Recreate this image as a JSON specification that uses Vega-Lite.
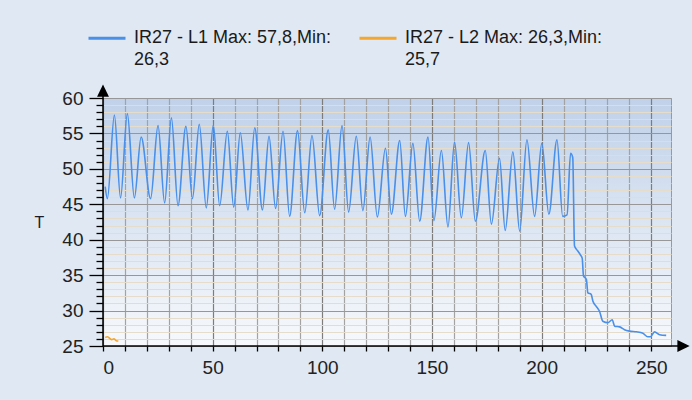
{
  "$schema": "https://vega.github.io/schema/vega-lite/v6.json",
  "width": 568,
  "height": 248,
  "autosize": {"type": "none"},
  "padding": {"left": 103, "top": 98, "right": 21, "bottom": 54},
  "background": "#dfe8f3",
  "view": {
    "fill": {"gradient": "linear", "x1": 0, "y1": 0, "x2": 0, "y2": 1, "stops": [{"offset": 0, "color": "#c0d1e9"}, {"offset": 1, "color": "#f7f9fc"}]},
    "stroke": "#9a9a9a",
    "strokeWidth": 1
  },
  "config": {
    "font": "Liberation Sans",
    "axis": {"labelFont": "Liberation Sans", "titleFont": "Liberation Sans"},
    "legend": {"labelFont": "Liberation Sans"},
    "style": {"guide-label": {"lineHeight": 21.5}}
  },
  "datasets": {
    "temps": [
      {"s": "IR27 - L1 Max: 57,8,Min:\n26,3", "x": 1, "y": 47.5},
      {"s": "IR27 - L1 Max: 57,8,Min:\n26,3", "x": 2, "y": 45.8},
      {"s": "IR27 - L1 Max: 57,8,Min:\n26,3", "x": 5.2, "y": 57.6},
      {"s": "IR27 - L1 Max: 57,8,Min:\n26,3", "x": 8.0, "y": 45.9},
      {"s": "IR27 - L1 Max: 57,8,Min:\n26,3", "x": 11.1, "y": 57.8},
      {"s": "IR27 - L1 Max: 57,8,Min:\n26,3", "x": 14.3, "y": 45.9},
      {"s": "IR27 - L1 Max: 57,8,Min:\n26,3", "x": 17.4, "y": 54.5},
      {"s": "IR27 - L1 Max: 57,8,Min:\n26,3", "x": 21.7, "y": 45.8},
      {"s": "IR27 - L1 Max: 57,8,Min:\n26,3", "x": 25.1, "y": 56.1},
      {"s": "IR27 - L1 Max: 57,8,Min:\n26,3", "x": 28.1, "y": 45.2},
      {"s": "IR27 - L1 Max: 57,8,Min:\n26,3", "x": 31.2, "y": 57.2},
      {"s": "IR27 - L1 Max: 57,8,Min:\n26,3", "x": 34.2, "y": 44.8},
      {"s": "IR27 - L1 Max: 57,8,Min:\n26,3", "x": 37.8, "y": 56.0},
      {"s": "IR27 - L1 Max: 57,8,Min:\n26,3", "x": 40.8, "y": 45.8},
      {"s": "IR27 - L1 Max: 57,8,Min:\n26,3", "x": 43.9, "y": 56.3},
      {"s": "IR27 - L1 Max: 57,8,Min:\n26,3", "x": 47.1, "y": 44.5},
      {"s": "IR27 - L1 Max: 57,8,Min:\n26,3", "x": 50.3, "y": 56.2},
      {"s": "IR27 - L1 Max: 57,8,Min:\n26,3", "x": 53.2, "y": 44.8},
      {"s": "IR27 - L1 Max: 57,8,Min:\n26,3", "x": 56.7, "y": 55.3},
      {"s": "IR27 - L1 Max: 57,8,Min:\n26,3", "x": 59.6, "y": 44.6},
      {"s": "IR27 - L1 Max: 57,8,Min:\n26,3", "x": 62.6, "y": 55.1},
      {"s": "IR27 - L1 Max: 57,8,Min:\n26,3", "x": 66.1, "y": 44.2},
      {"s": "IR27 - L1 Max: 57,8,Min:\n26,3", "x": 69.2, "y": 55.8},
      {"s": "IR27 - L1 Max: 57,8,Min:\n26,3", "x": 72.7, "y": 44.2},
      {"s": "IR27 - L1 Max: 57,8,Min:\n26,3", "x": 75.7, "y": 54.6},
      {"s": "IR27 - L1 Max: 57,8,Min:\n26,3", "x": 78.7, "y": 44.4},
      {"s": "IR27 - L1 Max: 57,8,Min:\n26,3", "x": 82.1, "y": 55.3},
      {"s": "IR27 - L1 Max: 57,8,Min:\n26,3", "x": 85.1, "y": 43.3},
      {"s": "IR27 - L1 Max: 57,8,Min:\n26,3", "x": 88.7, "y": 55.4},
      {"s": "IR27 - L1 Max: 57,8,Min:\n26,3", "x": 92.0, "y": 43.8},
      {"s": "IR27 - L1 Max: 57,8,Min:\n26,3", "x": 95.3, "y": 54.7},
      {"s": "IR27 - L1 Max: 57,8,Min:\n26,3", "x": 98.8, "y": 43.4},
      {"s": "IR27 - L1 Max: 57,8,Min:\n26,3", "x": 102.7, "y": 55.5},
      {"s": "IR27 - L1 Max: 57,8,Min:\n26,3", "x": 105.6, "y": 44.3},
      {"s": "IR27 - L1 Max: 57,8,Min:\n26,3", "x": 109.0, "y": 56.1},
      {"s": "IR27 - L1 Max: 57,8,Min:\n26,3", "x": 112.0, "y": 43.9},
      {"s": "IR27 - L1 Max: 57,8,Min:\n26,3", "x": 115.5, "y": 54.6},
      {"s": "IR27 - L1 Max: 57,8,Min:\n26,3", "x": 118.5, "y": 44.1},
      {"s": "IR27 - L1 Max: 57,8,Min:\n26,3", "x": 121.8, "y": 54.5},
      {"s": "IR27 - L1 Max: 57,8,Min:\n26,3", "x": 125.1, "y": 43.2},
      {"s": "IR27 - L1 Max: 57,8,Min:\n26,3", "x": 128.8, "y": 52.9},
      {"s": "IR27 - L1 Max: 57,8,Min:\n26,3", "x": 131.5, "y": 43.6},
      {"s": "IR27 - L1 Max: 57,8,Min:\n26,3", "x": 135.3, "y": 54.0},
      {"s": "IR27 - L1 Max: 57,8,Min:\n26,3", "x": 137.9, "y": 43.3},
      {"s": "IR27 - L1 Max: 57,8,Min:\n26,3", "x": 141.3, "y": 53.6},
      {"s": "IR27 - L1 Max: 57,8,Min:\n26,3", "x": 144.4, "y": 42.6},
      {"s": "IR27 - L1 Max: 57,8,Min:\n26,3", "x": 148.2, "y": 54.5},
      {"s": "IR27 - L1 Max: 57,8,Min:\n26,3", "x": 150.9, "y": 42.7},
      {"s": "IR27 - L1 Max: 57,8,Min:\n26,3", "x": 154.3, "y": 52.6},
      {"s": "IR27 - L1 Max: 57,8,Min:\n26,3", "x": 157.3, "y": 41.8},
      {"s": "IR27 - L1 Max: 57,8,Min:\n26,3", "x": 160.3, "y": 53.8},
      {"s": "IR27 - L1 Max: 57,8,Min:\n26,3", "x": 163.4, "y": 43.1},
      {"s": "IR27 - L1 Max: 57,8,Min:\n26,3", "x": 166.7, "y": 53.7},
      {"s": "IR27 - L1 Max: 57,8,Min:\n26,3", "x": 169.8, "y": 42.6},
      {"s": "IR27 - L1 Max: 57,8,Min:\n26,3", "x": 174.3, "y": 52.6},
      {"s": "IR27 - L1 Max: 57,8,Min:\n26,3", "x": 177.1, "y": 42.2},
      {"s": "IR27 - L1 Max: 57,8,Min:\n26,3", "x": 180.8, "y": 51.5},
      {"s": "IR27 - L1 Max: 57,8,Min:\n26,3", "x": 183.4, "y": 41.3},
      {"s": "IR27 - L1 Max: 57,8,Min:\n26,3", "x": 186.9, "y": 52.4},
      {"s": "IR27 - L1 Max: 57,8,Min:\n26,3", "x": 190.0, "y": 41.2},
      {"s": "IR27 - L1 Max: 57,8,Min:\n26,3", "x": 193.3, "y": 54.1},
      {"s": "IR27 - L1 Max: 57,8,Min:\n26,3", "x": 196.8, "y": 43.3},
      {"s": "IR27 - L1 Max: 57,8,Min:\n26,3", "x": 200.1, "y": 53.6},
      {"s": "IR27 - L1 Max: 57,8,Min:\n26,3", "x": 203.3, "y": 43.6},
      {"s": "IR27 - L1 Max: 57,8,Min:\n26,3", "x": 207.0, "y": 54.1},
      {"s": "IR27 - L1 Max: 57,8,Min:\n26,3", "x": 209.6, "y": 43.3},
      {"s": "IR27 - L1 Max: 57,8,Min:\n26,3", "x": 211.6, "y": 43.5},
      {"s": "IR27 - L1 Max: 57,8,Min:\n26,3", "x": 213.2, "y": 52.2},
      {"s": "IR27 - L1 Max: 57,8,Min:\n26,3", "x": 214.2, "y": 51.6},
      {"s": "IR27 - L1 Max: 57,8,Min:\n26,3", "x": 215.0, "y": 39.1},
      {"s": "IR27 - L1 Max: 57,8,Min:\n26,3", "x": 216.5, "y": 38.4},
      {"s": "IR27 - L1 Max: 57,8,Min:\n26,3", "x": 217.6, "y": 37.9},
      {"s": "IR27 - L1 Max: 57,8,Min:\n26,3", "x": 218.5, "y": 37.4},
      {"s": "IR27 - L1 Max: 57,8,Min:\n26,3", "x": 219.1, "y": 34.9},
      {"s": "IR27 - L1 Max: 57,8,Min:\n26,3", "x": 220.4, "y": 34.4},
      {"s": "IR27 - L1 Max: 57,8,Min:\n26,3", "x": 221.1, "y": 32.5},
      {"s": "IR27 - L1 Max: 57,8,Min:\n26,3", "x": 222.6, "y": 32.3},
      {"s": "IR27 - L1 Max: 57,8,Min:\n26,3", "x": 223.4, "y": 31.3},
      {"s": "IR27 - L1 Max: 57,8,Min:\n26,3", "x": 224.9, "y": 30.6},
      {"s": "IR27 - L1 Max: 57,8,Min:\n26,3", "x": 226.4, "y": 29.9},
      {"s": "IR27 - L1 Max: 57,8,Min:\n26,3", "x": 227.9, "y": 28.5},
      {"s": "IR27 - L1 Max: 57,8,Min:\n26,3", "x": 230.2, "y": 28.3},
      {"s": "IR27 - L1 Max: 57,8,Min:\n26,3", "x": 232.2, "y": 28.7},
      {"s": "IR27 - L1 Max: 57,8,Min:\n26,3", "x": 233.3, "y": 27.8},
      {"s": "IR27 - L1 Max: 57,8,Min:\n26,3", "x": 235.6, "y": 27.7},
      {"s": "IR27 - L1 Max: 57,8,Min:\n26,3", "x": 237.8, "y": 27.3},
      {"s": "IR27 - L1 Max: 57,8,Min:\n26,3", "x": 240.1, "y": 27.1},
      {"s": "IR27 - L1 Max: 57,8,Min:\n26,3", "x": 243.2, "y": 27.0},
      {"s": "IR27 - L1 Max: 57,8,Min:\n26,3", "x": 246.2, "y": 26.8},
      {"s": "IR27 - L1 Max: 57,8,Min:\n26,3", "x": 248.4, "y": 26.3},
      {"s": "IR27 - L1 Max: 57,8,Min:\n26,3", "x": 249.6, "y": 26.3},
      {"s": "IR27 - L1 Max: 57,8,Min:\n26,3", "x": 251.5, "y": 27.0},
      {"s": "IR27 - L1 Max: 57,8,Min:\n26,3", "x": 253.8, "y": 26.6},
      {"s": "IR27 - L1 Max: 57,8,Min:\n26,3", "x": 256.8, "y": 26.5},
      {"s": "IR27 - L2 Max: 26,3,Min:\n25,7", "x": 1, "y": 26.2},
      {"s": "IR27 - L2 Max: 26,3,Min:\n25,7", "x": 2, "y": 26.3},
      {"s": "IR27 - L2 Max: 26,3,Min:\n25,7", "x": 3, "y": 26.1},
      {"s": "IR27 - L2 Max: 26,3,Min:\n25,7", "x": 4, "y": 25.9},
      {"s": "IR27 - L2 Max: 26,3,Min:\n25,7", "x": 5, "y": 26.0},
      {"s": "IR27 - L2 Max: 26,3,Min:\n25,7", "x": 6, "y": 25.75},
      {"s": "IR27 - L2 Max: 26,3,Min:\n25,7", "x": 7, "y": 25.7}
    ],
    "axes": [{"x0": 0, "x1": 264, "y0": 25, "y1": 60.9, "xa": 264.3, "ya": 60.9}]
  },
  "encoding": {
    "x": {
      "field": "x", "type": "quantitative",
      "scale": {"domain": [0, 259], "nice": false, "zero": false},
      "axis": {
        "values": [0, 10, 20, 30, 40, 50, 60, 70, 80, 90, 100, 110, 120, 130, 140, 150, 160, 170, 180, 190, 200, 210, 220, 230, 240, 250],
        "labelExpr": "datum.value % 50 === 0 ? datum.label : ''",
        "labelOverlap": false,
        "labelFontSize": 19,
        "labelColor": "#222222",
        "labelPadding": 7,
        "domain": false,
        "grid": true,
        "gridColor": {"condition": {"test": "datum.value % 50 === 0", "value": "#7d7d7d"}, "value": "#a3a3a3"},
        "gridWidth": 1.2,
        "ticks": true,
        "tickSize": 5,
        "tickColor": "#000000",
        "tickWidth": 1.3,
        "title": null
      }
    },
    "y": {
      "field": "y", "type": "quantitative",
      "scale": {"domain": [25, 60], "nice": false, "zero": false},
      "axis": {
        "values": [25, 26, 27, 28, 29, 30, 31, 32, 33, 34, 35, 36, 37, 38, 39, 40, 41, 42, 43, 44, 45, 46, 47, 48, 49, 50, 51, 52, 53, 54, 55, 56, 57, 58, 59, 60],
        "labelExpr": "datum.value % 5 === 0 ? datum.label : ''",
        "labelOverlap": false,
        "labelFontSize": 19,
        "labelColor": "#222222",
        "labelPadding": 6,
        "domain": false,
        "grid": true,
        "gridColor": {"condition": {"test": "datum.value % 5 === 0", "value": "#979797"}, "value": "#e6dccb"},
        "gridWidth": 1.2,
        "tickSize": {"condition": {"test": "datum.value % 5 === 0", "value": 14}, "value": 7},
        "tickColor": "#000000",
        "tickWidth": 1.3,
        "title": "T",
        "titleAngle": 0,
        "titleFontSize": 16,
        "titleFontWeight": "normal",
        "titleColor": "#1a1a2a",
        "titleAlign": "center",
        "titleBaseline": "middle",
        "titleX": -64,
        "titleY": 124
      }
    }
  },
  "layer": [
    {
      "data": {"name": "temps"},
      "mark": {"type": "line", "strokeWidth": 1.6, "interpolate": "monotone"},
      "encoding": {
        "color": {
          "field": "s", "type": "nominal",
          "scale": {"domain": ["IR27 - L1 Max: 57,8,Min:\n26,3", "IR27 - L2 Max: 26,3,Min:\n25,7"], "range": ["#4a8fe8", "#f4a62e"]},
          "legend": {
            "title": null,
            "orient": "none",
            "direction": "horizontal",
            "legendX": -16,
            "legendY": -80,
            "padding": 0,
            "symbolType": "stroke",
            "symbolSize": 1369,
            "symbolStrokeWidth": 3,
            "labelExpr": "split(datum.label, '\\n')",
            "labelFontSize": 18,
            "labelColor": "#1a1a1a",
            "labelOffset": 7,
            "labelLimit": 400,
            "columnPadding": 21
          }
        }
      }
    },
    {
      "data": {"name": "axes"},
      "mark": {"type": "rule", "color": "#000000", "strokeWidth": 1.5},
      "encoding": {
        "x": {"field": "x0", "type": "quantitative"},
        "x2": {"field": "x1"},
        "y": {"field": "y0", "type": "quantitative"}
      }
    },
    {
      "data": {"name": "axes"},
      "mark": {"type": "rule", "color": "#000000", "strokeWidth": 1.5},
      "encoding": {
        "x": {"field": "x0", "type": "quantitative"},
        "y": {"field": "y0", "type": "quantitative"},
        "y2": {"field": "y1"}
      }
    },
    {
      "data": {"name": "axes"},
      "mark": {"type": "point", "filled": true, "color": "#000000", "opacity": 1, "size": 196, "shape": "M1,0L-0.75,-0.85L-0.75,0.85Z"},
      "encoding": {
        "x": {"field": "xa", "type": "quantitative"},
        "y": {"field": "y0", "type": "quantitative"}
      }
    },
    {
      "data": {"name": "axes"},
      "mark": {"type": "point", "filled": true, "color": "#000000", "opacity": 1, "size": 196, "shape": "M0,-1L0.85,0.75L-0.85,0.75Z"},
      "encoding": {
        "x": {"field": "x0", "type": "quantitative"},
        "y": {"field": "ya", "type": "quantitative"}
      }
    }
  ]
}
